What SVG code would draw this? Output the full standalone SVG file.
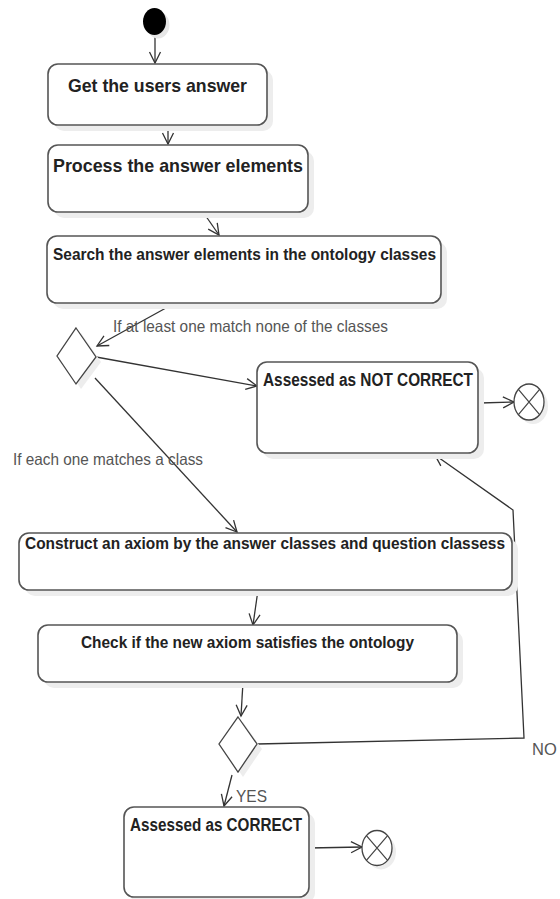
<svg xmlns="http://www.w3.org/2000/svg" width="560" height="899" viewBox="0 0 560 899">
<style>
.box{fill:#fff;stroke:#555;stroke-width:1.6}
.sh{fill:#ededed;stroke:none}
.t{font-family:"Liberation Sans",Arial,sans-serif;font-weight:bold;fill:#222}
.lbl{font-family:"Liberation Sans",Arial,sans-serif;font-size:16.5px;fill:#555}
.c{fill:none;stroke:#333;stroke-width:1.3}
.dia{fill:#fff;stroke:#444;stroke-width:1.3}
</style>
<defs>
<marker id="a" markerUnits="userSpaceOnUse" markerWidth="14" markerHeight="14" viewBox="0 0 14 14" refX="12" refY="7" orient="auto">
<path d="M1,1.5 L12,7 L1,12.5" fill="none" stroke="#333" stroke-width="1.3"/>
</marker>
</defs>
<g id="connectors">
<line class="c" x1="155" y1="35" x2="155" y2="63" marker-end="url(#a)"/>
<line class="c" x1="168" y1="125" x2="168" y2="144" marker-end="url(#a)"/>
<line class="c" x1="203" y1="212" x2="219" y2="235" marker-end="url(#a)"/>
<line class="c" x1="175" y1="303" x2="97" y2="346" marker-end="url(#a)"/>
<line class="c" x1="96" y1="357" x2="257" y2="386" marker-end="url(#a)"/>
<line class="c" x1="95" y1="378" x2="237" y2="532" marker-end="url(#a)"/>
<line class="c" x1="480" y1="403" x2="514" y2="402" marker-end="url(#a)"/>
<line class="c" x1="258" y1="590" x2="253" y2="625" marker-end="url(#a)"/>
<line class="c" x1="243" y1="682" x2="241" y2="716" marker-end="url(#a)"/>
<polyline class="c" points="257,744 524,738 513,510 435,455" marker-end="url(#a)"/>
<line class="c" x1="232" y1="775" x2="224" y2="806" marker-end="url(#a)"/>
<line class="c" x1="309" y1="848" x2="362" y2="847" marker-end="url(#a)"/>
<text class="lbl" x="113" y="332" font-size="17" textLength="275" lengthAdjust="spacingAndGlyphs">If at least one match none of the classes</text>
<text class="lbl" x="13" y="465" textLength="190" lengthAdjust="spacingAndGlyphs">If each one matches a class</text>
<text class="lbl" x="236" y="802" textLength="31" lengthAdjust="spacingAndGlyphs">YES</text>
<text class="lbl" x="532" y="755" font-size="15">NO</text>
</g>
<g id="start">
<ellipse cx="158" cy="25" rx="11.5" ry="13.5" fill="#e6e6e6"/>
<ellipse cx="154.5" cy="21.5" rx="11.5" ry="13.5" fill="#000"/>
</g>
<g id="n1">
<rect class="sh" x="54" y="70" width="219" height="61" rx="10"/>
<rect class="box" x="48" y="64" width="219" height="61" rx="10"/>
<text class="t" x="68" y="92" font-size="19" textLength="179" lengthAdjust="spacingAndGlyphs">Get the users answer</text>
</g>
<g id="n2">
<rect class="sh" x="54" y="151" width="260" height="67" rx="10"/>
<rect class="box" x="48" y="145" width="260" height="67" rx="10"/>
<text class="t" x="53" y="172" font-size="19" textLength="250" lengthAdjust="spacingAndGlyphs">Process the answer elements</text>
</g>
<g id="n3">
<rect class="sh" x="53" y="242" width="394" height="67" rx="10"/>
<rect class="box" x="47" y="236" width="394" height="67" rx="10"/>
<text class="t" x="53" y="260" font-size="17" textLength="383" lengthAdjust="spacingAndGlyphs">Search the answer elements in the ontology classes</text>
</g>
<g id="d1">
<polygon points="81,333 101,362 81,389 62,361" fill="#ededed"/>
<polygon class="dia" points="76,328 96,357 76,384 57,356"/>
</g>
<g id="n4">
<rect class="sh" x="263" y="368" width="221" height="91" rx="10"/>
<rect class="box" x="257" y="362" width="221" height="91" rx="10"/>
<text class="t" x="263" y="386" font-size="18" textLength="210" lengthAdjust="spacingAndGlyphs">Assessed as NOT CORRECT</text>
</g>
<g id="e1">
<ellipse cx="533" cy="406" rx="15" ry="18" fill="#ededed"/>
<ellipse cx="529" cy="402" rx="15" ry="18" fill="#fff" stroke="#444" stroke-width="1.3"/>
<path d="M518.4,389.3 L539.6,414.7 M539.6,389.3 L518.4,414.7" stroke="#444" stroke-width="1.2"/>
</g>
<g id="n5">
<rect class="sh" x="25" y="539" width="493" height="57" rx="10"/>
<rect class="box" x="19" y="533" width="493" height="57" rx="10"/>
<text class="t" x="25" y="549" font-size="16.5" textLength="480" lengthAdjust="spacingAndGlyphs">Construct an axiom by the answer classes and question classess</text>
</g>
<g id="n6">
<rect class="sh" x="44" y="631" width="419" height="57" rx="10"/>
<rect class="box" x="38" y="625" width="419" height="57" rx="10"/>
<text class="t" x="81" y="648" font-size="16.5" textLength="333" lengthAdjust="spacingAndGlyphs">Check if the new axiom satisfies the ontology</text>
</g>
<g id="d2">
<polygon points="243,722 262,749 243,777 224,749" fill="#ededed"/>
<polygon class="dia" points="238,717 257,744 238,772 219,744"/>
</g>
<g id="n7">
<rect class="sh" x="130" y="813" width="185" height="90" rx="10"/>
<rect class="box" x="124" y="807" width="185" height="90" rx="10"/>
<text class="t" x="130" y="831" font-size="18" textLength="172" lengthAdjust="spacingAndGlyphs">Assessed as CORRECT</text>
</g>
<g id="e2">
<ellipse cx="381" cy="852" rx="15" ry="17.5" fill="#ededed"/>
<ellipse cx="377" cy="848" rx="15" ry="17.5" fill="#fff" stroke="#444" stroke-width="1.3"/>
<path d="M366.4,835.6 L387.6,860.4 M387.6,835.6 L366.4,860.4" stroke="#444" stroke-width="1.2"/>
</g>
</svg>
